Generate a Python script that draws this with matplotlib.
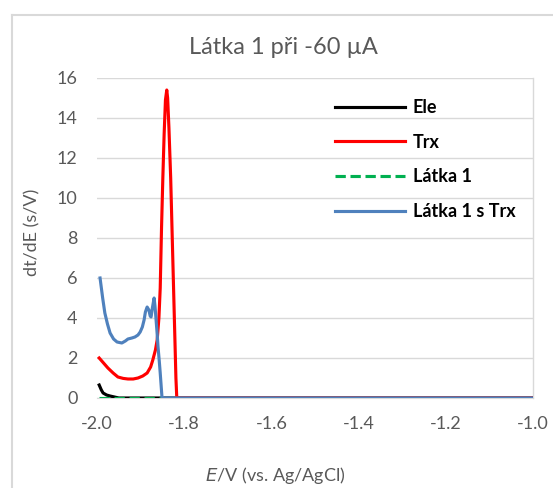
import matplotlib
matplotlib.use("Agg")
import matplotlib.pyplot as plt
from matplotlib.lines import Line2D

plt.rcParams['font.family'] = ['Lato', 'DejaVu Sans']

title = "Látka 1 při -60 µA"
ylabel = "dt/dE (s/V)"
series_names = ["Ele", "Trx", "Látka 1", "Látka 1 s Trx"]

ele_E = [-1.995, -1.990, -1.986, -1.978, -1.970, -1.960, -1.950, -1.90, -1.80, -1.0]
ele_v = [0.65, 0.40, 0.25, 0.15, 0.10, 0.05, 0.0, 0.0, 0.0, 0.0]

trx_E = [-1.995, -1.985, -1.975, -1.963, -1.952, -1.940, -1.929, -1.917, -1.906, -1.895,
         -1.885, -1.877, -1.872, -1.866, -1.862, -1.858, -1.855, -1.852, -1.849, -1.846,
         -1.843, -1.840, -1.838, -1.835, -1.831, -1.828, -1.825, -1.822, -1.819, -1.817,
         -1.80, -1.0]
trx_v = [2.0, 1.75, 1.5, 1.25, 1.05, 0.98, 0.95, 0.95, 1.0, 1.1,
         1.25, 1.55, 1.9, 2.4, 2.9, 4.0, 5.5, 8.5, 11.0, 13.2,
         14.9, 15.4, 15.0, 13.5, 11.0, 8.5, 6.0, 3.5, 1.0, 0.0,
         0.0, 0.0]

l1_E = [-1.995, -1.90, -1.80, -1.0]
l1_v = [0.0, 0.0, 0.0, 0.0]

l1trx_E = [-1.993, -1.987, -1.982, -1.976, -1.970, -1.962, -1.954, -1.943, -1.935, -1.929,
           -1.920, -1.913, -1.906, -1.901, -1.896, -1.892, -1.889, -1.885, -1.881, -1.878,
           -1.876, -1.873, -1.869, -1.867, -1.865, -1.862, -1.860, -1.857, -1.855, -1.851,
           -1.849, -1.0]
l1trx_v = [6.0, 5.0, 4.25, 3.7, 3.25, 2.95, 2.8, 2.75, 2.85, 2.95,
           3.0, 3.05, 3.15, 3.3, 3.55, 3.9, 4.3, 4.55, 4.4, 4.1,
           4.05, 4.5, 5.0, 4.6, 4.05, 3.2, 2.55, 1.8, 1.25, 0.05,
           0.0, 0.0]

xticks = [-2.0, -1.8, -1.6, -1.4, -1.2, -1.0]
yticks = [0, 2, 4, 6, 8, 10, 12, 14, 16]

W, H = 553, 488
fig = plt.figure(figsize=(W / 100, H / 100), dpi=100)
ax = fig.add_axes([97 / W, 1 - 398 / H, (533 - 97) / W, (398 - 78) / H])

grid_c = '#D9D9D9'
txt_c = '#595959'

ax.plot(ele_E, ele_v, color='black', lw=2.25, label=series_names[0], zorder=3)
ax.plot(trx_E, trx_v, color='#FF0000', lw=2.25, label=series_names[1], zorder=3)
ax.plot(l1_E, l1_v, color='#00B050', lw=2.25, ls=(0, (3.3, 1.5)), label=series_names[2], zorder=4)
ax.plot(l1trx_E, l1trx_v, color='#4F81BD', lw=2.25, label=series_names[3], zorder=5)

ax.set_xlim(-2.0, -1.0)
ax.set_ylim(0, 16)
ax.set_xticks(xticks)
ax.set_xticklabels([f"{t:.1f}" for t in xticks])
ax.set_yticks(yticks)
ax.tick_params(length=0, labelsize=13, labelcolor=txt_c)
ax.tick_params(axis='y', pad=14)
ax.tick_params(axis='x', pad=13)
ax.yaxis.grid(True, color=grid_c, lw=1)
ax.set_axisbelow(True)
for s in ['left', 'top']:
    ax.spines[s].set_visible(False)
ax.spines['right'].set_color(grid_c)
ax.spines['right'].set_linewidth(1)
ax.spines['bottom'].set_color(grid_c)

leg = ax.legend(loc='upper left', bbox_to_anchor=((335 - 97) / 436, (398 - 99) / 320),
                frameon=False, fontsize=13, handlelength=3.9, handletextpad=0.4,
                labelspacing=0.98, borderpad=0, borderaxespad=0)
for t in leg.get_texts():
    t.set_fontweight('bold')
    t.set_color('black')

fig.text(283 / W, 1 - 47 / H, title, ha='center', va='center', fontsize=17, color=txt_c)
fig.text(32 / W, 1 - 232 / H, ylabel, ha='center', va='center', rotation=90, fontsize=13, color=txt_c)
fig.text(275 / W, 1 - 475 / H, r"$\mathit{E}$/V (vs. Ag/AgCl)", ha='center', va='center',
         fontsize=13, color=txt_c)

# outer chart border
fig.add_artist(Line2D([12 / W, 12 / W], [0, 1 - 15 / H], transform=fig.transFigure, color=grid_c, lw=1.5))
fig.add_artist(Line2D([12 / W, 1], [1 - 15 / H, 1 - 15 / H], transform=fig.transFigure, color=grid_c, lw=1.5))

fig.savefig('out.png', dpi=100)
